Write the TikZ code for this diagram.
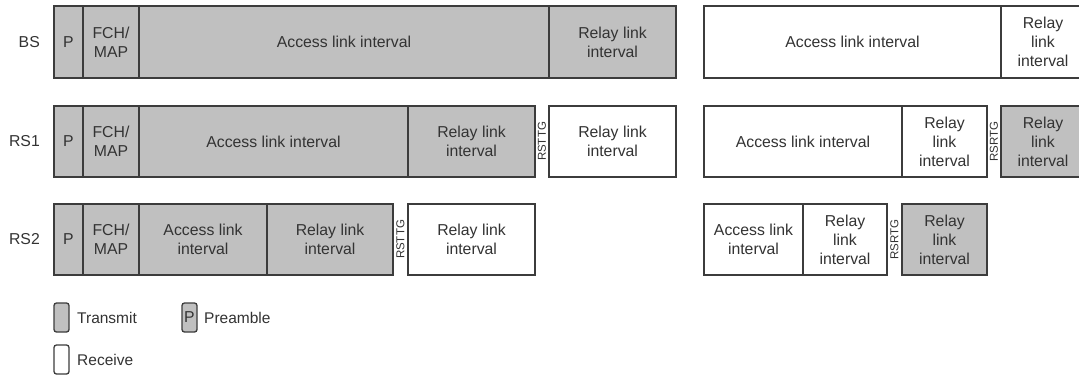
\documentclass[tikz,border=0pt]{standalone}
\usepackage{fontspec}
\setmainfont{Liberation Sans}
\definecolor{edge}{HTML}{3C3C3C}
\definecolor{tgray}{HTML}{C0C0C0}
\definecolor{txt}{HTML}{333333}
\tikzset{
  seg/.style={draw=edge, line width=1.3pt, inner sep=0pt, outer sep=0pt, align=center,
    text=txt, font=\fontsize{15.8}{19}\selectfont},
  txseg/.style={seg, fill=tgray},
  rxseg/.style={seg, fill=white},
  gaplbl/.style={rotate=90, inner sep=0pt, text=txt, font=\fontsize{11.5}{12}\selectfont},
  rowlbl/.style={anchor=east, inner sep=0pt, text=txt, font=\fontsize{15.8}{19}\selectfont},
  legbox/.style={draw=edge, line width=1.3pt, rounded corners=2.5pt, minimum width=15pt,
    minimum height=29pt, inner sep=0pt, text=txt, font=\fontsize{15.8}{19}\selectfont},
  legtxt/.style={anchor=west, inner sep=0pt, text=txt, font=\fontsize{15.5}{19}\selectfont},
}
% #1 style, #2 left, #3 right, #4 top, #5 bottom, #6 name, #7 text
\newcommand\slot[7]{\node[#1, minimum width={(#3-#2)*1pt}, minimum height={(#5-#4)*1pt}]
  (#6) at ({(#2+#3)/2},{(#4+#5)/2}) {#7};}
\begin{document}
\begin{tikzpicture}[x=1pt,y=-1pt]
\clip (0,0) rectangle (1079,376);
\fill[white] (0,0) rectangle (1079,376);
% BS
\node[rowlbl] (lbs) at (40,42) {BS};
\slot{txseg}{54}{83}{6}{78}{bsp}{P}
\slot{txseg}{83}{139}{6}{78}{bsfch}{FCH/\\MAP}
\slot{txseg}{139}{549}{6}{78}{bsacc}{Access link interval}
\slot{txseg}{549}{676}{6}{78}{bsrel}{Relay link\\interval}
\slot{rxseg}{704}{1001}{6}{78}{bsacc2}{Access link interval}
\slot{rxseg}{1001}{1085}{6}{78}{bsrel2}{Relay\\link\\interval}
% RS1
\node[rowlbl] (lrs1) at (40,141.5) {RS1};
\slot{txseg}{54}{83}{106}{177}{ap}{P}
\slot{txseg}{83}{139}{106}{177}{afch}{FCH/\\MAP}
\slot{txseg}{139}{408}{106}{177}{aacc}{Access link interval}
\slot{txseg}{408}{535}{106}{177}{arel}{Relay link\\interval}
\node[gaplbl] (ag1) at (542,141.5) {RSTTG};
\slot{rxseg}{549}{676}{106}{177}{arx}{Relay link\\interval}
\slot{rxseg}{704}{902}{106}{177}{aacc2}{Access link interval}
\slot{rxseg}{902}{987}{106}{177}{arel2}{Relay\\link\\interval}
\node[gaplbl] (ag2) at (994,141.5) {RSRTG};
\slot{txseg}{1001}{1085}{106}{177}{atx2}{Relay\\link\\interval}
% RS2
\node[rowlbl] (lrs2) at (40,239.5) {RS2};
\slot{txseg}{54}{83}{204}{275}{bp}{P}
\slot{txseg}{83}{139}{204}{275}{bfch}{FCH/\\MAP}
\slot{txseg}{139}{267}{204}{275}{bacc}{Access link\\interval}
\slot{txseg}{267}{393}{204}{275}{brel}{Relay link\\interval}
\node[gaplbl] (bg1) at (400.5,239.5) {RSTTG};
\slot{rxseg}{408}{535}{204}{275}{brx}{Relay link\\interval}
\slot{rxseg}{704}{803}{204}{275}{bacc2}{Access link\\interval}
\slot{rxseg}{803}{887}{204}{275}{brel2}{Relay\\link\\interval}
\node[gaplbl] (bg2) at (894.5,239.5) {RSRTG};
\slot{txseg}{902}{987}{204}{275}{btx2}{Relay\\link\\interval}
% Legend
\node[legbox, fill=tgray] (ltx) at (61.5,317.5) {};
\node[legtxt] (ltxt) at (77,317.5) {Transmit};
\node[legbox, fill=tgray] (lpre) at (189.5,317.5) {P};
\node[legtxt] (lpret) at (204,317.5) {Preamble};
\node[legbox, fill=white] (lrx) at (61.5,359.5) {};
\node[legtxt] (lrxt) at (77,359.5) {Receive};
\end{tikzpicture}
\end{document}
